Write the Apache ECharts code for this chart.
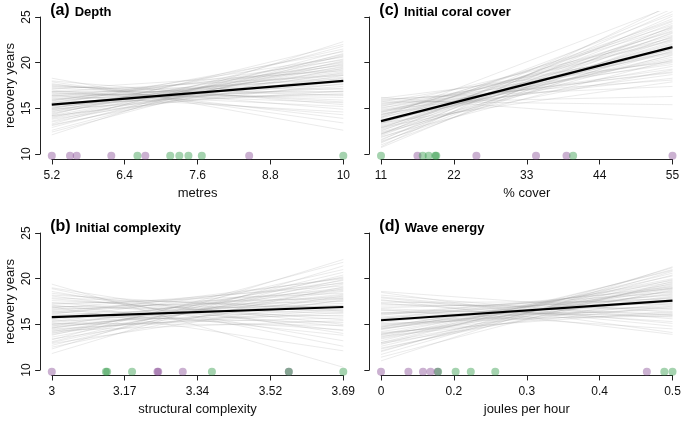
<!DOCTYPE html>
<html><head><meta charset="utf-8">
<script src="https://cdn.jsdelivr.net/npm/echarts@6/dist/echarts.min.js"></script>
<style>html,body{margin:0;padding:0;background:#fff}#c{width:685px;height:424px}</style>
</head><body><div id="c"></div>
<script>
// ---------- data ----------
const panelLetters = ['(a)', '(c)', '(b)', '(d)'];
const panelNames = ['Depth', 'Initial coral cover', 'Initial complexity', 'Wave energy'];
const xAxisNames = ['metres', '% cover', 'structural complexity', 'joules per hour'];
const yAxisName = 'recovery years';
const yTicks = [10, 15, 20, 25];

const depthTicks = [5.2, 6.4, 7.6, 8.8, 10];
const depthTickLabels = ['5.2', '6.4', '7.6', '8.8', '10'];
const coverTicks = [11, 22, 33, 44, 55];
const coverTickLabels = ['11', '22', '33', '44', '55'];
const complexityTicks = [3, 3.1725, 3.345, 3.5175, 3.69];
const complexityTickLabels = ['3', '3.17', '3.34', '3.52', '3.69'];
const waveTicks = [0, 0.125, 0.25, 0.375, 0.5];
const waveTickLabels = ['0', '0.2', '0.3', '0.4', '0.5'];

const meanStart = [15.4, 13.6, 15.8, 15.45];
const meanEnd = [18.0, 21.7, 16.9, 17.6];

const pointLevel = 9.8;
const depthPurple = [5.2, 5.5, 5.61, 6.18, 6.74, 8.45];
const depthGreen = [6.61, 7.15, 7.30, 7.45, 7.67, 10.0];
const coverPurple = [16.5, 25.4, 34.4, 39.0, 55];
const coverGreen = [11, 17.3, 18.2, 19.2, 19.35, 40.0];
const complexityPurple = [3.0, 3.25, 3.252, 3.31, 3.561];
const complexityGreen = [3.128, 3.131, 3.19, 3.379, 3.561, 3.69];
const wavePurple = [0, 0.047, 0.072, 0.085, 0.097, 0.456];
const waveGreen = [0.098, 0.128, 0.154, 0.196, 0.486, 0.5];

const depthLineStart = [15.4,14.2,16.8,13.6,15.9,17.2,14.8,12.9,16.4,15.1,18.3,14.5,16.0,13.3,17.6,15.6,14.0,16.6,12.1,15.3,17.9,14.9,16.2,13.9,15.7,17.0,14.4,16.9,13.1,15.5,16.3,14.7,17.4,12.6,15.0,16.7,14.1,15.8,18.0,13.5,15.2,16.5,14.6,17.7,15.9,13.8,16.1,14.3,17.3,15.6,12.4,16.8,14.9,17.5,13.2,15.4,16.4,14.2,17.1,15.0];
const depthLineEnd = [18.0,20.1,15.6,20.9,17.6,15.9,19.2,21.3,16.8,18.7,12.6,19.8,18.4,21.8,14.9,17.2,20.4,16.2,22.3,19.0,13.4,18.3,17.9,19.6,18.8,14.3,20.7,16.9,20.2,16.6,19.3,17.9,16.4,21.0,19.5,15.2,18.9,20.6,15.4,19.9,17.4,18.2,21.5,13.9,19.7,18.6,16.5,22.0,17.1,20.3,20.8,18.6,16.9,15.7,19.4,21.2,14.6,17.7,19.1,20.0];

const coverLineStart = [13.6,12.2,15.1,11.5,14.3,16.2,12.9,10.8,14.8,13.2,15.6,12.0,14.0,11.2,15.3,13.4,12.5,14.6,11.8,15.8,13.0,14.1,12.3,15.0,10.7,13.8,14.5,12.7,16.0,11.6,13.5,14.9,12.1,15.5,13.1,11.4,14.4,12.8,15.2,13.7,11.0,14.2,12.4,15.9,13.3,14.7,11.9,13.9,15.4,12.6,14.0,13.4,11.3,14.6,16.1,12.9,13.6,15.7,12.2,14.3];
const coverLineEnd = [21.7,24.3,19.0,25.6,20.4,13.8,22.8,26.4,18.3,23.5,16.3,23.9,21.2,25.1,18.9,22.1,24.8,20.0,22.6,15.4,21.6,23.0,20.9,21.4,24.0,19.6,22.4,23.2,17.4,23.7,20.8,19.3,25.9,20.2,22.0,21.9,18.7,24.5,22.7,20.6,22.9,24.1,21.5,18.1,25.3,21.0,20.3,23.4,19.8,22.3,26.2,17.9,23.3,22.5,20.1,19.2,24.6,21.1,21.3,23.8];

const complexityLineStart = [15.8,14.2,17.4,13.1,16.5,18.6,15.0,12.3,16.9,14.7,19.4,15.3,17.0,13.6,16.2,18.1,14.4,15.6,17.8,11.8,16.0,14.9,17.2,13.4,15.4,18.9,14.0,16.7,15.1,13.0,17.6,14.6,16.3,12.7,15.9,18.4,14.1,16.6,13.8,17.1,15.5,14.5,16.8,12.9,17.9,15.2,13.3,16.4,14.8,19.0,15.7,13.9,17.3,14.3,16.1,12.5,18.2,15.0,16.9,14.6];
const complexityLineEnd = [16.9,19.6,14.8,20.7,15.9,13.2,18.3,22.1,17.5,17.8,10.3,19.0,16.2,19.4,18.8,14.3,16.6,20.1,15.5,21.4,17.3,15.7,18.4,18.1,16.0,12.6,20.2,17.0,14.9,19.9,16.4,18.6,19.5,20.4,15.2,15.0,17.6,18.0,21.0,13.8,18.7,16.3,19.2,17.7,16.8,17.9,21.8,14.4,19.8,14.0,17.1,18.9,17.8,15.4,20.0,19.1,16.5,16.7,12.1,18.2];

const waveLineStart = [15.4,13.4,17.3,12.1,16.2,18.5,14.5,11.0,16.8,14.0,17.9,14.7,13.0,16.5,12.6,15.8,17.6,13.6,13.7,16.0,18.2,11.7,15.6,14.8,17.0,12.9,14.5,14.1,17.7,15.2,13.2,16.7,14.6,13.9,12.3,17.2,15.0,13.8,16.1,18.0,14.4,15.5,12.8,16.2,14.9,13.5,17.4,13.0,16.3,13.9,11.4,15.6,14.7,16.6,15.7,12.4,18.6,14.2,12.0,15.1];
const waveLineEnd = [17.6,19.2,15.3,20.4,16.9,14.1,18.4,21.3,17.8,17.3,14.8,19.6,18.7,16.2,19.9,18.2,16.0,20.3,17.0,18.9,15.6,20.8,16.6,19.0,17.2,18.0,19.4,16.4,13.9,18.6,20.9,15.8,17.7,20.0,19.5,16.7,17.1,18.9,17.9,15.1,19.8,15.9,21.0,18.5,16.8,19.3,17.5,20.6,16.0,18.1,19.7,19.1,18.3,14.5,17.4,18.8,16.3,19.0,21.2,16.1];

// ---------- layout ----------
const FONT = '"Liberation Sans", Arial, Helvetica, sans-serif';
const colDataLeft = [51.8, 381];
const dataWidth = 291.5;
const rowTop25 = [17, 233];
const yAxisHeight = 137;               // from 10 to 25
const unit = yAxisHeight / 15;
const yExtLow = 9.4, yExtHigh = 25.6;  // R's 4% extended plot region

const panels = [
  {ticks: depthTicks, labels: depthTickLabels, start: depthLineStart, end: depthLineEnd, purple: depthPurple, green: depthGreen, col: 0, row: 0},
  {ticks: coverTicks, labels: coverTickLabels, start: coverLineStart, end: coverLineEnd, purple: coverPurple, green: coverGreen, col: 1, row: 0},
  {ticks: complexityTicks, labels: complexityTickLabels, start: complexityLineStart, end: complexityLineEnd, purple: complexityPurple, green: complexityGreen, col: 0, row: 1},
  {ticks: waveTicks, labels: waveTickLabels, start: waveLineStart, end: waveLineEnd, purple: wavePurple, green: waveGreen, col: 1, row: 1}
];

const grid = [], xAxis = [], yAxis = [], series = [], title = [];
const axisColor = '#222';
const PURPLE = 'rgba(125,60,140,0.5)';
const GREEN = 'rgba(30,145,55,0.5)';

panels.forEach((p, i) => {
  const left = colDataLeft[p.col];
  const extPx = dataWidth * 0.04;
  const top25 = rowTop25[p.row];
  const gData = grid.length;
  grid.push({left: left, top: top25 - (yExtHigh - 25) * unit, width: dataWidth,
             height: (yExtHigh - yExtLow) * unit, outerBoundsMode: 'none', containLabel: false});
  const gAxis = grid.length;
  grid.push({left: left - extPx, top: top25, width: 20, height: yAxisHeight, outerBoundsMode: 'none', containLabel: false});

  const xMin = p.ticks[0], xMax = p.ticks[p.ticks.length - 1];
  const fmt = (v) => { const k = p.ticks.findIndex(t => Math.abs(t - v) < 1e-6); return k >= 0 ? p.labels[k] : ''; };

  const xiData = xAxis.length;
  xAxis.push({
    type: 'value', gridIndex: gData, min: xMin, max: xMax,
    axisLine: {show: true, onZero: false, lineStyle: {color: axisColor, width: 1}},
    axisTick: {show: true, length: 5, customValues: p.ticks, lineStyle: {color: axisColor, width: 1}},
    axisLabel: {show: true, customValues: p.ticks, formatter: fmt, margin: 10, fontSize: 12, color: '#111', fontFamily: FONT},
    splitLine: {show: false},
    name: xAxisNames[i], nameLocation: 'middle', nameGap: 27,
    nameTextStyle: {fontSize: 13, color: '#111', fontFamily: FONT}
  });
  const yiData = yAxis.length;
  yAxis.push({type: 'value', gridIndex: gData, min: yExtLow, max: yExtHigh, show: false});

  xAxis.push({type: 'value', gridIndex: gAxis, min: 0, max: 1, show: false});
  yAxis.push({
    type: 'value', gridIndex: gAxis, min: yTicks[0], max: yTicks[yTicks.length - 1], interval: 5,
    axisLine: {show: true, lineStyle: {color: axisColor, width: 1}},
    axisTick: {show: true, length: 5, lineStyle: {color: axisColor, width: 1}},
    axisLabel: {show: p.col === 0, rotate: 90, margin: 7, fontSize: 12, color: '#111', fontFamily: FONT},
    splitLine: {show: false},
    name: p.col === 0 ? yAxisName : '', nameLocation: 'middle', nameGap: 23,
    nameTextStyle: {fontSize: 13, color: '#111', fontFamily: FONT}
  });

  series.push({
    type: 'lines', coordinateSystem: 'cartesian2d', xAxisIndex: xiData, yAxisIndex: yiData,
    clip: true, silent: true, polyline: false,
    lineStyle: {color: '#9a9a9a', width: 0.8, opacity: 0.25},
    data: p.start.map((s, k) => ({coords: [[xMin, s], [xMax, p.end[k]]]}))
  });
  series.push({
    type: 'line', xAxisIndex: xiData, yAxisIndex: yiData, clip: true, silent: true,
    symbol: 'none', lineStyle: {color: '#000', width: 2.2},
    data: [[xMin, meanStart[i]], [xMax, meanEnd[i]]]
  });
  series.push({
    type: 'scatter', xAxisIndex: xiData, yAxisIndex: yiData, clip: false, silent: true,
    symbolSize: 8, itemStyle: {color: PURPLE},
    data: p.purple.map(x => [x, pointLevel])
  });
  series.push({
    type: 'scatter', xAxisIndex: xiData, yAxisIndex: yiData, clip: false, silent: true,
    symbolSize: 8, itemStyle: {color: GREEN},
    data: p.green.map(x => [x, pointLevel])
  });

  title.push({
    text: '{p|' + panelLetters[i] + '} {t|' + panelNames[i] + '}',
    left: left - extPx + 10, top: top25 - 7 - 9, padding: 0,
    textStyle: {
      fontFamily: FONT,
      rich: {
        p: {fontSize: 16, fontWeight: 'bold', color: '#000', fontFamily: FONT, verticalAlign: 'bottom', lineHeight: 18},
        t: {fontSize: 13, fontWeight: 'bold', color: '#000', fontFamily: FONT, verticalAlign: 'bottom', lineHeight: 18}
      }
    }
  });
});

const chart = echarts.init(document.getElementById('c'), null, {renderer: 'canvas'});
chart.setOption({animation: false, backgroundColor: '#fff', title, grid, xAxis, yAxis, series});
</script>
</body></html>
